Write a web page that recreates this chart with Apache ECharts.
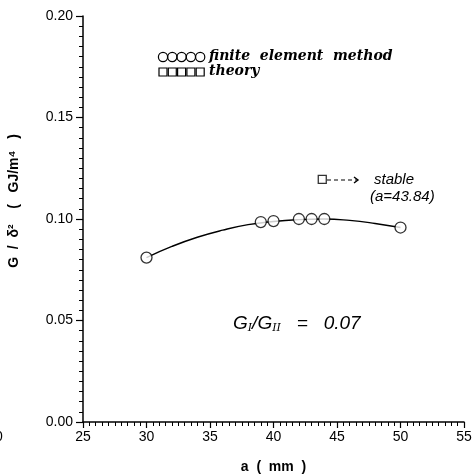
<!DOCTYPE html>
<html lang="en">
<head>
    <meta charset="UTF-8">
    <script src="https://cdn.jsdelivr.net/npm/echarts@6/dist/echarts.min.js"></script>
    <style type="text/css">
        html, body { margin: 0; padding: 0; background: #fff; }
        #main { width: 473px; height: 474px; }
    </style>
</head>
<body>
<div id="main"></div>
<script type="text/javascript">
    // finite element results
    var femA = [30, 39, 40, 42, 43, 44, 50];
    var femG = [0.081, 0.0985, 0.099, 0.100, 0.100, 0.100, 0.0958];
    // theory curve
    var theoryA = [30, 32, 34, 36, 38, 40, 42, 44, 46, 48, 50];
    var theoryG = [0.081, 0.0865, 0.0910, 0.0945, 0.0972, 0.0988, 0.0997, 0.1000, 0.0993, 0.0978, 0.0958];
    // stable point
    var stableA = [43.84];
    var stableG = [0.1195];
    var xTicks = [25, 30, 35, 40, 45, 50, 55];
    var yTicks = [0.00, 0.05, 0.10, 0.15, 0.20];

    var pair = function (xs, ys) {
        var out = [];
        for (var i = 0; i < xs.length; i++) out.push([xs[i], ys[i]]);
        return out;
    };

    var serif = '"DejaVu Serif", "Liberation Serif", serif';
    var sans = '"Liberation Sans", Arial, sans-serif';

    var myChart = echarts.init(document.getElementById('main'));

    var legendCircles = [];
    var legendSquares = [];
    for (var i = 0; i < 5; i++) {
        legendCircles.push({
            type: 'circle', shape: { cx: 163 + i * 9.3, cy: 57, r: 4.6 },
            style: { fill: 'none', stroke: '#000', lineWidth: 1.2 }
        });
        legendSquares.push({
            type: 'rect', shape: { x: 159 + i * 9.3, y: 68, width: 8, height: 8 },
            style: { fill: 'none', stroke: '#000', lineWidth: 1.2 }
        });
    }

    var option = {
        backgroundColor: '#fff',
        animation: false,
        grid: { left: 83, right: 9, top: 16, bottom: 52, containLabel: false, outerBoundsMode: 'none' },
        xAxis: {
            type: 'value',
            min: 25, max: 55, interval: 5,
            name: 'a  (  mm  )',
            nameLocation: 'middle',
            nameGap: 38,
            nameTextStyle: { color: '#000', fontFamily: sans, fontSize: 14, fontWeight: 'bold' },
            axisLine: { lineStyle: { color: '#000', width: 1.5 } },
            axisTick: { inside: false, length: 6, lineStyle: { color: '#000', width: 1.2 } },
            minorTick: { show: true, splitNumber: 10, length: 4, lineStyle: { color: '#000', width: 1 } },
            axisLabel: {
                color: '#000', fontFamily: sans, fontSize: 14, margin: 8,
                formatter: function (v) { return xTicks.indexOf(v) >= 0 ? String(v) : ''; }
            },
            splitLine: { show: false }
        },
        yAxis: {
            type: 'value',
            min: 0, max: 0.2, interval: 0.05,
            axisLine: { lineStyle: { color: '#000', width: 1.5 } },
            axisTick: { inside: false, length: 7, lineStyle: { color: '#000', width: 1.2 } },
            minorTick: { show: true, splitNumber: 10, length: 4, lineStyle: { color: '#000', width: 1 } },
            axisLabel: {
                color: '#000', fontFamily: sans, fontSize: 14, margin: 10,
                formatter: function (v) { return v.toFixed(2); }
            },
            splitLine: { show: false }
        },
        series: [
            {
                name: 'theory',
                type: 'line',
                smooth: true,
                showSymbol: false,
                data: pair(theoryA, theoryG),
                lineStyle: { color: '#000', width: 1.4 },
                z: 2
            },
            {
                name: 'finite element method',
                type: 'scatter',
                symbol: 'circle',
                symbolSize: 11,
                data: pair(femA, femG),
                itemStyle: { color: '#fff', borderColor: '#000', borderWidth: 1.3 },
                z: 3
            },
            {
                name: 'stable',
                type: 'scatter',
                symbol: 'rect',
                symbolSize: 8,
                data: pair(stableA, stableG),
                itemStyle: { color: '#fff', borderColor: '#000', borderWidth: 1.3 },
                z: 3
            }
        ],
        graphic: legendCircles.concat(legendSquares).concat([
            {
                // y axis title, rotated
                type: 'text', x: 14, y: 201, rotation: Math.PI / 2,
                style: {
                    text: 'G  /  δ²    (   GJ/m⁴   )', fill: '#000',
                    font: 'bold 14px ' + sans, align: 'center', verticalAlign: 'middle'
                }
            },
            {
                type: 'text', left: 209, top: 49,
                style: { text: 'finite  element  method', fill: '#000', font: 'italic bold 14px ' + serif }
            },
            {
                type: 'text', left: 209, top: 64,
                style: { text: 'theory', fill: '#000', font: 'italic bold 14px ' + serif }
            },
            {
                type: 'line', shape: { x1: 327, y1: 180, x2: 357, y2: 180 },
                style: { stroke: '#000', lineWidth: 1.2, lineDash: [4, 3] }
            },
            {
                type: 'polyline', shape: { points: [[354, 177], [358, 180], [354, 183]] },
                style: { stroke: '#000', lineWidth: 1.4, fill: 'none' }
            },
            {
                type: 'text', left: 374, top: 172,
                style: { text: 'stable', fill: '#000', font: 'italic 15px ' + sans }
            },
            {
                type: 'text', left: 370, top: 189,
                style: { text: '(a=43.84)', fill: '#000', font: 'italic 15px ' + sans }
            },
            {
                type: 'text', left: 233, top: 314,
                style: {
                    text: '{g|G}{s|I}{g|/G}{s|II}{g|   =   0.07}',
                    rich: {
                        g: { fill: '#000', font: 'italic 19px ' + sans },
                        s: { fill: '#000', font: 'italic 11px ' + serif, padding: [10, 0, 0, 0] }
                    }
                }
            },
            {
                type: 'text', left: -5, top: 430,
                style: { text: '0', fill: '#000', font: '14px ' + sans }
            }
        ])
    };

    myChart.setOption(option);
</script>
</body>
</html>
